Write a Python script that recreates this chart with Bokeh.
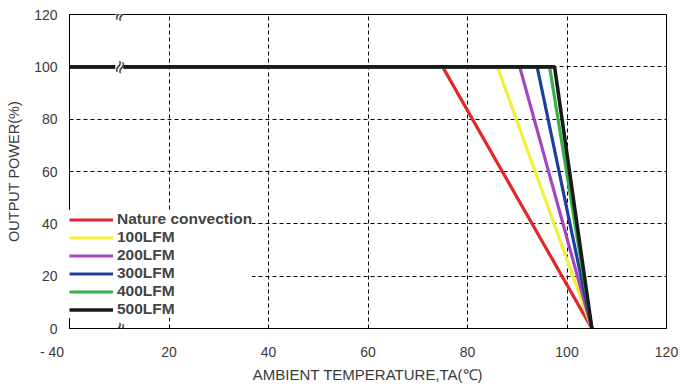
import math
from bokeh.plotting import figure
from bokeh.models import Legend, LegendItem, FixedTicker, Range1d, Label
from bokeh.core.properties import value
from bokeh.embed import file_html
from bokeh.resources import INLINE

# ---- data ----
series_names = ["Nature convection", "100LFM", "200LFM", "300LFM", "400LFM", "500LFM"]
series_colors = ["#e3262a", "#f2ef3a", "#a445c2", "#1f3fa0", "#37b04a", "#1a1a1a"]
start_temp = -40
derate_start_temp = [75, 86, 90.5, 94, 96.5, 97.5]
zero_power_temp = [105, 105, 105, 105, 105, 105]
full_power = [100, 100, 100, 100, 100, 100]
x_ticks = [-40, 20, 40, 60, 80, 100, 120]
y_ticks = [0, 20, 40, 60, 80, 100, 120]

# broken x axis: everything below 0 is squeezed onto the axis start
def bx(t):
    return t if t >= 0 else 0

FONT = "Liberation Sans"

p = figure(width=688, height=385, output_backend="svg", toolbar_location=None,
           x_range=Range1d(0, 120), y_range=Range1d(0, 120),
           min_border_left=69, min_border_right=22, min_border_top=14, min_border_bottom=56)
p.background_fill_color = "white"
p.outline_line_color = "black"
p.outline_line_width = 1

# grid
p.xgrid.ticker = FixedTicker(ticks=[bx(t) for t in x_ticks])
p.ygrid.ticker = FixedTicker(ticks=y_ticks)
for g in (p.xgrid, p.ygrid):
    g.grid_line_color = "black"
    g.grid_line_dash = "4 3"
    g.grid_line_width = 1

# axes
p.xaxis.ticker = FixedTicker(ticks=[bx(t) for t in x_ticks])
p.xaxis.major_label_overrides = {
    bx(t): (("- " + str(abs(t)) + "\u00a0" * 9) if t < 0 else str(t)) for t in x_ticks}
p.yaxis.ticker = FixedTicker(ticks=y_ticks)
for ax in (p.xaxis[0], p.yaxis[0]):
    ax.major_tick_out = 0
    ax.major_tick_in = 0
    ax.minor_tick_out = 0
    ax.minor_tick_in = 0
    ax.axis_line_color = "black"
    ax.major_label_text_font = FONT
    ax.major_label_text_font_size = "14px"
    ax.major_label_text_color = "#3a3a3a"
    ax.axis_label_text_font = FONT
    ax.axis_label_text_font_style = "normal"
    ax.axis_label_text_color = "#3a3a3a"
p.xaxis.axis_label = "AMBIENT TEMPERATURE,TA(\u2103)"
p.yaxis.axis_label = "OUTPUT POWER(%)"
p.xaxis.axis_label_text_font_size = "15px"
p.yaxis.axis_label_text_font_size = "14.5px"
p.xaxis.major_label_standoff = 15
p.yaxis.major_label_standoff = 12
p.xaxis.axis_label_standoff = 3
p.yaxis.axis_label_standoff = 9

# series
items = []
for name, col, d0, z, fp in zip(series_names, series_colors, derate_start_temp, zero_power_temp, full_power):
    xs = [bx(start_temp), bx(d0), bx(z)]
    ys = [fp, fp, 0]
    r = p.line(xs, ys, line_color=col, line_width=3.2 if col != "#1a1a1a" else 3.6)
    items.append(LegendItem(label=name, renderers=[r]))

# axis break marks
break_x = 10
for yb in (120, 100, 0):
    p.rect(x=[break_x], y=[yb], width=1.6, height=2.5, fill_color="white", line_color=None)
    p.add_layout(Label(x=break_x, y=yb, text="\u2248", angle=1.2, text_align="center",
                       text_baseline="middle", text_font_size="18px", text_color="#333333",
                       text_font="DejaVu Sans"))

leg = Legend(items=items, location=(0, 10), orientation="vertical")
leg.background_fill_color = "white"
leg.background_fill_alpha = 1.0
leg.border_line_color = None
leg.padding = 2
leg.margin = 0
leg.spacing = 0
leg.glyph_width = 44
leg.glyph_height = 17
leg.label_height = 17
leg.label_standoff = 4
leg.label_text_font = FONT
leg.label_text_font_size = "15.5px"
leg.label_text_font_style = "bold"
leg.label_text_color = "#444444"
p.add_layout(leg, "center")

open("out.html", "w").write(file_html(p, INLINE))
